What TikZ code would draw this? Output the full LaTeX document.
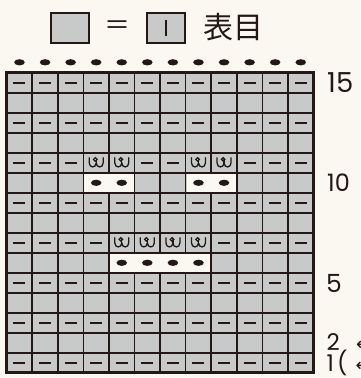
\documentclass[tikz,border=0pt]{standalone}
\usepackage{fontspec}
\newfontfamily\jpfont{Noto Sans CJK JP}
\newfontfamily\numfont{Poppins}
\newfontfamily\arrowfont{DejaVu Sans}
\definecolor{bgc}{HTML}{FBF7F1}
\definecolor{cellg}{HTML}{C8CACA}
\definecolor{ink}{HTML}{231815}
\tikzset{
  dashsym/.pic={\draw[ink, line width=2.2pt, line cap=butt] (-6,0) -- (6,0);},
  dotsym/.pic={\fill[ink] (0,0) ellipse [x radius=5.3pt, y radius=3.1pt];},
  wsym/.pic={
    \draw[ink, line width=1.3pt, line cap=round, line join=round]
      (-7,-5) -- (-7,0) .. controls (-7,5.5) and (0,5.5) .. (0,0)
      .. controls (0,5.5) and (7,5.5) .. (7,0) -- (7,-5);
    \draw[ink, line width=1.3pt, line cap=round] (0,0) -- (0,-3.2);
    \draw[ink, line width=1.2pt] (-0.9,-3.4) circle [radius=1.8pt];
  },
  legbox/.style={draw=ink, line width=2pt, fill=cellg, minimum width=38.6pt, minimum height=30.6pt, inner sep=0pt},
  rownum/.style={anchor=base west, inner sep=0pt, text=ink, font=\numfont},
}
\begin{document}
\begin{tikzpicture}[x=1pt, y=-1pt]
\def\xo{6.7}\def\cw{25.57}\def\yo{72.8}\def\rh{20}
\useasboundingbox (0,0) rectangle (360,378);
\fill[bgc] (0,0) rectangle (360,378);
% legend
\node[legbox] (lg1) at (70,28) {};
\node[text=ink, font=\jpfont\fontsize{26}{28}\selectfont, inner sep=0pt] (eq) at (117,28) {＝};
\node[legbox] (lg2) at (165.9,28) {};
\draw[ink, line width=2pt] ([yshift=8pt]lg2.center) -- ([yshift=-8pt]lg2.center);
\node[text=ink, font=\jpfont\fontsize{30}{32}\selectfont, inner sep=0pt] (lbl) at (233,27) {表目};
% top dots
\foreach \c in {1,...,12}{
  \pic at ({\xo+(\c-0.5)*\cw},62.3) {dotsym};
}
% grid
\fill[cellg] (\xo,\yo) rectangle ({\xo+12*\cw},{\yo+15*\rh});
\foreach \c in {1,...,11}{
  \draw[ink, line width=1.6pt] ({\xo+\c*\cw},\yo) -- ({\xo+\c*\cw},{\yo+15*\rh});
}
\foreach \r in {1,...,14}{
  \draw[ink, line width=1.6pt] (\xo,{\yo+\r*\rh}) -- ({\xo+12*\cw},{\yo+\r*\rh});
}
% white cells
\fill[bgc] ({\xo+3*\cw+0.9},{\yo+5*\rh+0.9}) rectangle ({\xo+5*\cw-0.9},{\yo+6*\rh-0.9});
\fill[bgc] ({\xo+7*\cw+0.9},{\yo+5*\rh+0.9}) rectangle ({\xo+9*\cw-0.9},{\yo+6*\rh-0.9});
\fill[bgc] ({\xo+4*\cw+0.9},{\yo+9*\rh+0.9}) rectangle ({\xo+8*\cw-0.9},{\yo+10*\rh-0.9});
\draw[ink, line width=2.8pt] (\xo,\yo) rectangle ({\xo+12*\cw},{\yo+15*\rh});
% dashes: full rows
\foreach \r in {0,2,6,10,12,14}{
  \foreach \c in {1,...,12}{
    \pic at ({\xo+(\c-0.5)*\cw},{\yo+(\r+0.5)*\rh}) {dashsym};
  }
}
\foreach \c in {1,2,3,6,7,10,11,12}{
  \pic at ({\xo+(\c-0.5)*\cw},{\yo+4.5*\rh}) {dashsym};
}
\foreach \c in {1,2,3,4,9,10,11,12}{
  \pic at ({\xo+(\c-0.5)*\cw},{\yo+8.5*\rh}) {dashsym};
}
% w symbols
\foreach \c in {4,5,8,9}{
  \pic at ({\xo+(\c-0.5)*\cw},{\yo+4.5*\rh}) {wsym};
  \pic at ({\xo+(\c-0.5)*\cw},{\yo+5.5*\rh}) {dotsym};
}
\foreach \c in {5,6,7,8}{
  \pic at ({\xo+(\c-0.5)*\cw},{\yo+8.5*\rh}) {wsym};
  \pic at ({\xo+(\c-0.5)*\cw},{\yo+9.5*\rh}) {dotsym};
}
% row numbers
\node[rownum, font=\numfont\fontsize{27.5}{30}\selectfont] (n15) at (327,92.7) {15};
\node[rownum, font=\numfont\fontsize{24}{26}\selectfont] (n10) at (327,191.7) {10};
\node[rownum, font=\numfont\fontsize{25}{27}\selectfont] (n5) at (326,292.7) {5};
\node[rownum, font=\numfont\fontsize{23}{25}\selectfont] (n2) at (326.5,350) {2 \hspace{10pt}{\arrowfont\fontsize{18}{20}\selectfont ←}};
\node[rownum, font=\numfont\fontsize{23}{25}\selectfont] (n1) at (326.5,371.5) {1\kern3pt(\hspace{8pt}{\arrowfont\fontsize{18}{20}\selectfont ←}};
\end{tikzpicture}
\end{document}
